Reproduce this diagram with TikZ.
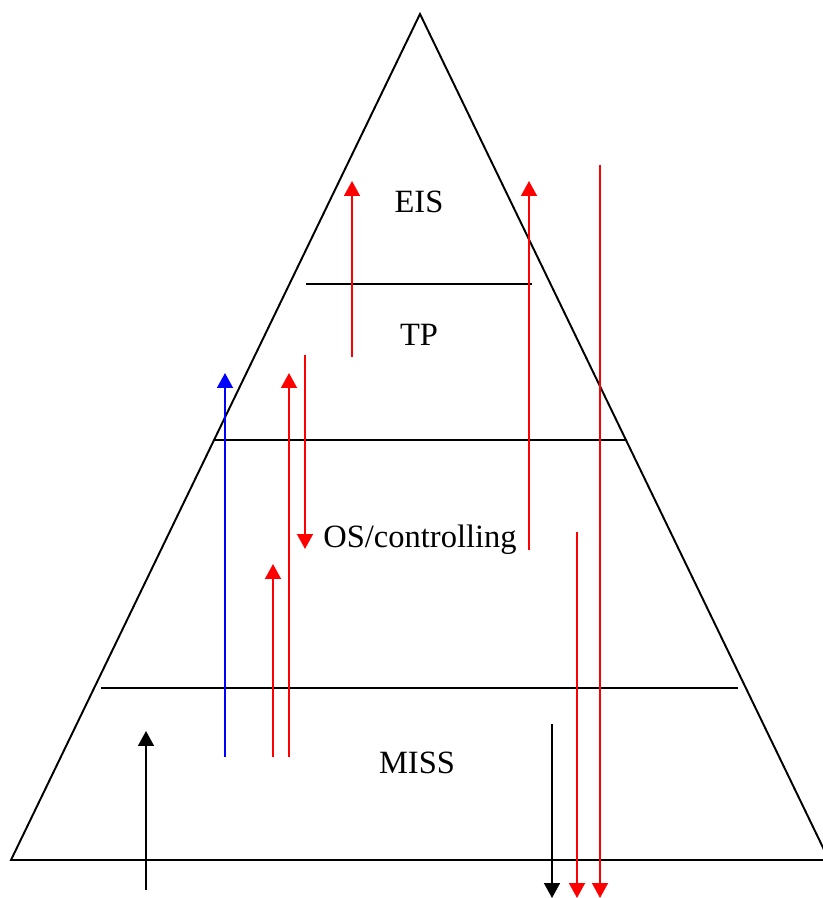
\documentclass[tikz,border=0pt]{standalone}
\usepackage{fontspec}
\setmainfont{Liberation Serif}
\usetikzlibrary{arrows.meta, positioning}
\definecolor{flowred}{RGB}{255, 0, 0}
\definecolor{flowblue}{RGB}{0, 0, 255}

\begin{document}
\begin{tikzpicture}[
    x=0.02cm, y=-0.02cm,
    tier/.style={draw=black, line width=1.1pt},
    layertext/.style={font=\fontsize{18.5}{22}\selectfont, inner sep=0pt},
    flow/.style={line width=1.1pt, -{Triangle[width=9pt, length=8.5pt]}}
]
    \useasboundingbox (0, 0) rectangle (822, 898);

    % Pyramid outline
    \coordinate (apex) at (420, 14);
    \coordinate (baseL) at (11, 860);
    \coordinate (baseR) at (829, 860);
    \draw[tier, line join=miter] (baseL) -- (apex) -- (baseR) -- cycle;

    % Tier separators
    \coordinate (s1L) at (306, 284); \coordinate (s1R) at (532, 284);
    \coordinate (s2L) at (215, 440); \coordinate (s2R) at (627, 440);
    \coordinate (s3L) at (101, 688); \coordinate (s3R) at (738, 688);
    \draw[tier] (s1L) -- (s1R);
    \draw[tier] (s2L) -- (s2R);
    \draw[tier] (s3L) -- (s3R);

    % Tier labels
    \node[layertext] (eis) at (419, 202) {EIS};
    \node[layertext] (tp) at (419, 335) {TP};
    \node[layertext] (os) at (420, 540) {OS/controlling};
    \node[layertext] (miss) at (417, 763) {MISS};

    % Information flows
    \foreach \nm/\x/\ya/\yb/\col in {
        a/352/357/181/flowred,
        b/529/550/181/flowred,
        c/600/165/898/flowred,
        d/225/757/373/flowblue,
        e/289/757/373/flowred,
        f/305/355/549/flowred,
        g/273/757/564/flowred,
        h/146/890/731/black,
        i/552/724/898/black,
        j/577/532/898/flowred}
    {
        \coordinate (\nm s) at (\x, \ya);
        \coordinate (\nm e) at (\x, \yb);
        \draw[flow, draw=\col, fill=\col] (\nm s) -- (\nm e);
    }
\end{tikzpicture}
\end{document}
